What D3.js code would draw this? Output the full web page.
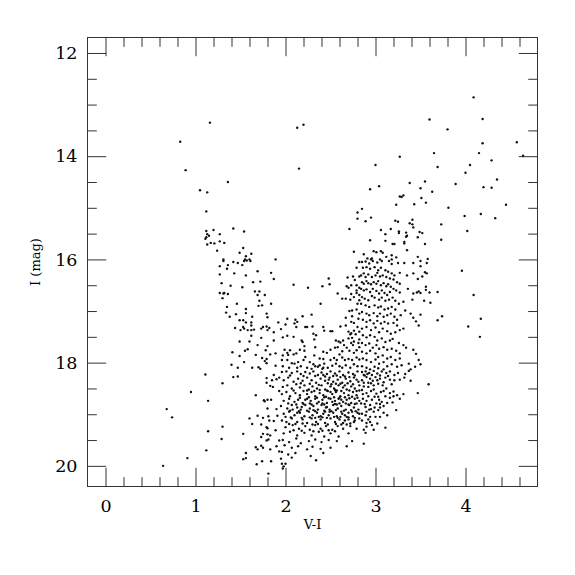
<!DOCTYPE html>
<html><head><meta charset="utf-8">
<script src="https://cdn.jsdelivr.net/npm/d3@7"></script>
<style>body{margin:0;background:#fff}svg{display:block}</style>
</head><body>
<svg id="c" width="575" height="575"></svg>
<script>
// ---- tick labels / domains ----
const xMajorTicks = [0, 1, 2, 3, 4];
const yMajorTicks = [12, 14, 16, 18, 20];
const xDomain = [-0.2, 4.8];
const yDomain = [11.7, 20.4];
const xLabel = "V-I";
const yLabel = "I (mag)";

// ---- data: [V-I, I] ----
const brightField = [[1.16,13.35],[0.83,13.72],[0.89,14.27],[1.36,14.50],[1.05,14.66],[1.13,14.70],[1.12,15.07],
[2.13,13.45],[2.20,13.39],[3.60,13.29],[2.15,14.24],[3.27,14.01],[3.00,14.17],
[4.09,12.86],[4.19,13.28],[3.80,13.48],[4.19,13.75],[4.57,13.73],[4.64,13.99],[3.65,13.94],[4.15,13.94],[4.29,14.08],[4.05,14.17],[3.69,14.21],[4.00,14.32],[4.35,14.45],[3.89,14.54],[3.63,14.69],[4.20,14.60],[4.29,14.61],[4.45,14.94],[3.81,15.00],[3.99,15.16],[4.17,15.12],[4.33,15.20],[3.73,15.32],[4.02,15.45],[3.73,15.62]];

const blueBranch = [[1.12,15.45],[1.20,15.43],[1.42,15.40],[1.54,15.46],[1.13,15.51],[1.27,15.51],[1.15,15.54],[1.12,15.57],[1.11,15.60],[1.27,15.65],[1.17,15.68],[1.21,15.69],[1.32,15.68],[1.13,15.71],[1.24,15.83],[1.53,15.78],[1.49,15.87],[1.62,15.89],[1.56,15.94],[1.31,16.00],[1.55,16.00],[1.60,16.00],[1.89,16.00],
[1.31,16.03],[1.36,16.11],[1.42,16.05],[1.47,16.07],[1.52,16.11],[1.54,16.03],[1.57,16.02],[1.61,16.03],[1.27,16.13],[1.35,16.18],[1.69,16.23],[1.43,16.27],[1.56,16.31],[1.27,16.29],[1.84,16.26],[1.87,16.38],[1.29,16.46],[1.64,16.44],[1.72,16.43],[1.39,16.51],[1.52,16.54],[1.27,16.65],[1.31,16.66],[1.32,16.65],[1.36,16.67],[1.66,16.62],[1.71,16.62],[1.30,16.75],[1.69,16.69],[1.77,16.69],[1.71,16.80],[1.46,16.86],[1.70,16.90],[1.74,16.89],[1.84,16.86],[1.35,16.92],[1.56,16.96],[1.56,17.04],[1.34,17.03],[1.45,17.06],[1.79,17.05],[1.38,17.11],[1.63,17.11],[1.80,17.12],[1.49,17.18],[1.53,17.18],[1.56,17.22],[1.62,17.22],[1.92,17.22],[1.62,17.28],[1.53,17.31],[1.54,17.34],[1.44,17.33],[1.50,17.37],[1.58,17.37],[1.62,17.37],[1.65,17.36],[1.73,17.34],[1.75,17.31],[1.79,17.30],[1.82,17.33],[1.80,17.37],[1.87,17.41],[1.62,17.48],[1.73,17.52],[1.49,17.59],[1.60,17.59],[1.87,17.57],[1.69,17.66],[1.80,17.68],[1.58,17.74],[1.55,17.77],[1.78,17.76],[1.41,17.80],[1.89,17.82],[1.83,17.84],[1.49,17.87],[1.67,17.85],[1.74,17.91],[1.79,17.93],[1.77,17.97],[1.79,18.01],[1.54,17.99],[1.40,18.04],[1.47,18.10],[1.63,18.10],[1.70,18.09],[1.72,18.12],[1.89,18.06],
[1.11,18.23],[1.42,18.28],[1.47,18.27],[1.30,18.40],[0.95,18.57],[1.14,18.74],[0.68,18.90],[0.74,19.06],[1.14,19.33],[1.30,19.24],[1.29,19.48],[1.12,19.70],[0.91,19.85],[0.64,20.00]];

const upperGiants = [[2.94,14.64],[3.04,14.58],[3.38,14.52],[3.55,14.49],[3.50,14.62],[3.27,14.78],[3.29,14.79],[3.31,14.76],[3.51,14.81],[3.56,14.90],[3.23,14.94],[3.43,14.93],[2.85,15.02],[2.80,15.09],[2.95,15.19],[2.80,15.21],[2.89,15.26],[3.22,15.25],[3.25,15.27],[3.41,15.23],[3.38,15.30],[3.41,15.32],[3.42,15.38],[2.71,15.41],[3.06,15.43],[3.17,15.41],[3.26,15.46],[3.26,15.49],[3.34,15.48],[3.11,15.51],[3.49,15.47],[3.52,15.49],[3.35,15.54],[3.34,15.56],[3.47,15.57],[2.94,15.63],[3.11,15.64],[3.32,15.66],[3.32,15.69],[3.19,15.70],[3.21,15.70],[3.55,15.70],[3.35,15.82],[2.76,15.85],[2.98,15.84],[3.01,15.86],[3.06,15.84],[3.08,15.87],[2.87,15.90],[3.12,15.95],[3.18,15.92],[3.23,15.96],[2.91,15.98],[2.96,15.98],[2.95,16.00],[3.05,16.00],[3.18,16.00],[3.47,15.95],[3.58,15.99],
[3.50,16.03],[3.57,16.07],[3.50,16.13],[3.96,16.22],[3.55,16.25],[3.57,16.27],[3.52,16.33],[3.56,16.53],[3.56,16.59],[3.60,16.64],[3.69,16.63],[3.50,16.65],[4.09,16.69],[3.54,16.80],[3.61,16.84],[3.50,17.07],[3.74,17.10],[3.69,17.18],[4.17,17.15],[4.03,17.30],[4.16,17.50],[3.50,18.03],[3.59,18.42]];

const giantsLeft = [[2.82,16.05],[2.79,16.16],[2.75,16.33],[2.69,16.35],[2.82,16.33],[2.77,16.40],[2.79,16.50],[2.73,16.50],[2.70,16.55],[2.68,16.52],[2.82,16.55],[2.79,16.60],[2.79,16.65],[2.82,16.69],[2.73,16.67],[2.58,16.66],[2.63,16.76],[2.67,16.76],[2.72,16.78],[2.76,16.73],[2.82,16.79],[2.80,16.86],[2.48,16.37],[2.49,16.48],[2.41,16.52],[2.09,16.49],[2.25,16.55],[2.39,16.86],[2.74,16.99],[2.71,17.00],[2.79,16.97],[2.82,17.05],[2.67,17.13],[2.74,17.10],[2.76,17.23],[2.81,17.15],[2.73,17.21],[2.29,17.07],[2.19,17.10],[2.02,17.15],[2.11,17.17],[2.13,17.21],[2.10,17.24],[2.12,17.31],[2.00,17.26],[1.95,17.35],[2.22,17.31],[2.24,17.31],[2.30,17.30],[2.42,17.31],[2.43,17.38],[2.50,17.39],[2.52,17.39],[2.61,17.30],[2.67,17.28],[2.80,17.31],[2.70,17.40],[2.76,17.38],[2.73,17.43],[2.72,17.45],[2.78,17.45],[2.82,17.40],[2.31,17.44],[2.34,17.47],[2.02,17.48],[2.09,17.50],[1.97,17.51],[2.18,17.57],[2.19,17.60],[2.32,17.55],[2.21,17.68],[2.33,17.70],[2.56,17.57],[2.64,17.57],[2.59,17.59],[2.61,17.61],[2.70,17.53],[2.74,17.52],[2.82,17.55],[2.76,17.59],[2.73,17.62],[2.81,17.62],[2.65,17.66],[2.58,17.70],[2.50,17.75],[2.55,17.71],[2.42,17.79],[2.46,17.81],[2.68,17.71],[2.75,17.66],[2.82,17.70],[2.71,17.77],[2.76,17.81],[2.79,17.76],[2.63,17.78],[2.60,17.84],[1.99,17.75],[2.05,17.76],[2.02,17.81],[1.97,17.86],[2.03,17.85],[2.09,17.84],[2.12,17.82],[2.16,17.75],[2.21,17.77],[2.22,17.89],[2.32,17.86],[2.38,17.92],[2.42,17.93],[2.43,18.02],[2.50,17.95],[2.54,17.91],[2.57,17.95],[2.63,17.90],[2.66,17.95],[2.70,17.93],[2.74,17.95],[2.79,17.90],[2.82,17.94],[1.96,17.95],[2.02,17.95],[2.07,18.01],[2.10,18.02],[2.14,17.99],[2.20,17.95],[2.27,17.99],[2.31,18.03],[2.36,18.08],[2.38,18.05],[2.42,18.10],[2.47,18.10],[2.52,18.06],[2.56,18.02],[2.60,18.07],[2.63,18.10],[2.67,18.05],[2.72,18.10],[2.76,18.03],[2.80,18.07],[1.97,18.07],[2.04,18.10],[2.13,18.10],[2.17,18.07],[2.24,18.10],[2.29,18.12],[2.33,18.07],[2.41,18.12]];

const giantsRight = [[2.85,16.05],[2.89,16.04],[2.93,16.08],[2.97,16.03],[3.02,16.06],[3.07,16.03],[3.15,16.03],[3.18,16.09],[3.25,16.07],[3.32,16.07],[3.42,16.07],
[2.86,16.16],[2.90,16.15],[2.94,16.18],[2.99,16.15],[3.03,16.21],[3.06,16.16],[3.11,16.21],[3.14,16.24],[3.18,16.27],[3.21,16.31],[3.27,16.26],[3.35,16.31],[3.42,16.27],[3.47,16.38],
[2.84,16.31],[2.87,16.27],[2.89,16.34],[2.92,16.29],[2.96,16.34],[3.00,16.31],[3.02,16.26],[3.05,16.33],[3.08,16.31],[3.12,16.34],[3.16,16.37],[3.20,16.39],[3.24,16.44],[3.27,16.47],
[2.85,16.44],[2.87,16.47],[2.90,16.42],[2.92,16.46],[2.95,16.48],[2.98,16.44],[3.01,16.47],[3.03,16.42],[3.06,16.50],[3.09,16.46],[3.12,16.52],[3.14,16.48],[3.17,16.53],[3.20,16.57],[3.23,16.60],[3.27,16.64],[3.36,16.57],
[2.84,16.57],[2.87,16.60],[2.90,16.58],[2.94,16.63],[2.97,16.57],[3.01,16.61],[3.04,16.66],[3.07,16.60],[3.10,16.65],[3.13,16.69],[3.16,16.63],[3.42,16.66],[3.46,16.64],[3.48,16.62],[3.41,16.78],
[2.85,16.73],[2.88,16.76],[2.92,16.79],[2.96,16.71],[2.99,16.74],[3.04,16.78],[3.07,16.74],[3.11,16.80],[3.15,16.78],[3.19,16.74],[3.22,16.80],[3.26,16.86],[3.31,16.82],
[2.84,16.86],[2.89,16.89],[2.93,16.92],[2.99,16.89],[3.03,16.93],[3.06,16.91],[3.10,16.97],[3.14,16.95],[3.18,16.92],[3.22,16.97],[3.33,16.99],[3.39,17.05],[3.42,17.13],[3.45,17.20],[3.48,17.28],
[2.85,17.02],[2.90,17.05],[2.93,17.08],[2.98,17.04],[3.02,17.10],[3.05,17.05],[3.09,17.11],[3.13,17.08],[3.17,17.05],[3.21,17.11],[3.24,17.17],[3.28,17.08],
[2.86,17.17],[2.90,17.21],[2.94,17.18],[2.98,17.24],[3.02,17.19],[3.06,17.24],[3.10,17.21],[3.14,17.24],[3.20,17.23],[3.24,17.28],
[2.85,17.34],[2.90,17.31],[2.95,17.37],[3.00,17.32],[3.04,17.41],[3.08,17.34],[3.13,17.39],[3.17,17.44],[3.22,17.41],[3.27,17.37],[3.31,17.34],
[2.86,17.47],[2.90,17.51],[2.94,17.47],[2.99,17.50],[3.02,17.57],[3.07,17.53],[3.11,17.60],[3.16,17.57],[3.19,17.54],[3.26,17.62],[3.31,17.66],[3.34,17.71],[3.42,17.75],[3.45,17.83],
[2.85,17.62],[2.89,17.66],[2.93,17.63],[2.97,17.71],[3.01,17.66],[3.04,17.73],[3.09,17.70],[3.13,17.75],[3.18,17.73],[3.23,17.77],[3.27,17.82],
[2.85,17.79],[2.90,17.82],[2.94,17.77],[3.00,17.82],[3.03,17.89],[3.08,17.86],[3.13,17.92],[3.17,17.89],[3.22,17.95],[3.27,17.92],
[2.86,17.92],[2.90,17.95],[2.95,17.99],[3.00,17.94],[3.04,18.02],[3.09,17.99],[3.13,18.07],[3.18,18.03],[3.24,18.08],[3.29,18.05],[3.37,18.02],[3.44,18.08],[3.48,17.95],[3.39,18.13],
[2.85,18.07],[2.90,18.10],[2.94,18.13],[2.99,18.08],[3.03,18.11],[3.09,18.13]];

const turnoffBlue = [[1.79,18.30],[1.87,18.24],[1.90,18.32],[1.93,18.29],[1.85,18.34],[1.79,18.39],[1.83,18.45],[1.86,18.47],[1.93,18.55],[1.67,18.63],[1.76,18.73],[1.77,18.75],[1.80,18.72],[1.84,18.72],[1.80,18.89],[1.90,18.90],[1.69,19.03],[1.75,19.07],[1.81,19.04],[1.91,19.03],[1.60,19.08],[1.82,19.12],[1.87,19.13],[1.63,19.19],[1.73,19.20],[1.79,19.25],[1.80,19.27],[1.89,19.31],[1.53,19.38],[1.75,19.38],[1.80,19.39],[1.83,19.41],[1.73,19.44],[1.79,19.51],[1.81,19.49],[1.93,19.51],[1.73,19.61],[1.67,19.64],[1.69,19.68],[1.75,19.65],[1.90,19.62],[1.83,19.68],[1.93,19.72],[1.56,19.75],[1.53,19.87],[1.56,19.85],[1.74,19.91],[1.84,19.91],[1.68,19.97],[1.81,20.15],[1.96,19.96],[1.98,20.01]];

const faintLeft = [[1.96,18.18],[2.01,18.17],[2.07,18.20],[2.13,18.17],[2.17,18.22],[2.22,18.18],[2.27,18.21],[2.31,18.17],[2.36,18.24],[2.40,18.19],[2.46,18.22],[2.50,18.17],[2.55,18.21],[2.60,18.17],[2.64,18.24],[2.70,18.19],[2.75,18.22],[2.80,18.17],
[1.98,18.34],[2.03,18.29],[2.09,18.37],[2.14,18.31],[2.19,18.35],[2.24,18.29],[2.29,18.34],[2.34,18.39],[2.39,18.31],[2.44,18.35],[2.49,18.29],[2.53,18.37],[2.58,18.33],[2.63,18.39],[2.67,18.31],[2.72,18.36],[2.76,18.29],[2.81,18.37],
[1.97,18.47],[2.02,18.44],[2.07,18.50],[2.12,18.42],[2.16,18.48],[2.21,18.44],[2.26,18.52],[2.30,18.46],[2.35,18.50],[2.40,18.44],[2.44,18.52],[2.50,18.46],[2.54,18.50],[2.59,18.44],[2.64,18.48],[2.68,18.52],[2.73,18.46],[2.77,18.50],[2.82,18.44],
[1.96,18.61],[2.01,18.57],[2.05,18.65],[2.11,18.59],[2.16,18.63],[2.20,18.55],[2.24,18.61],[2.29,18.57],[2.33,18.65],[2.38,18.59],[2.42,18.63],[2.47,18.55],[2.52,18.61],[2.56,18.57],[2.61,18.65],[2.65,18.59],[2.70,18.63],[2.75,18.57],[2.79,18.63],
[1.98,18.74],[2.04,18.70],[2.10,18.76],[2.14,18.72],[2.19,18.78],[2.24,18.70],[2.28,18.74],[2.33,18.70],[2.37,18.76],[2.41,18.72],[2.46,18.78],[2.50,18.70],[2.55,18.74],[2.59,18.70],[2.64,18.76],[2.68,18.72],[2.73,18.78],[2.77,18.70],[2.82,18.74],
[1.95,18.84],[2.02,18.89],[2.07,18.82],[2.13,18.87],[2.17,18.91],[2.22,18.82],[2.27,18.89],[2.31,18.84],[2.36,18.91],[2.40,18.82],[2.45,18.87],[2.49,18.91],[2.53,18.82],[2.58,18.89],[2.62,18.84],[2.67,18.91],[2.71,18.82],[2.76,18.87],[2.81,18.91],
[1.98,18.99],[2.04,18.95],[2.10,19.02],[2.16,18.97],[2.21,19.04],[2.26,18.95],[2.30,19.02],[2.35,18.97],[2.39,19.04],[2.44,18.95],[2.48,19.02],[2.53,18.97],[2.57,19.04],[2.62,18.95],[2.66,19.02],[2.70,18.97],[2.75,19.04],[2.80,18.97],
[1.96,19.12],[2.01,19.15],[2.07,19.08],[2.13,19.15],[2.19,19.10],[2.24,19.17],[2.29,19.08],[2.34,19.15],[2.39,19.10],[2.44,19.17],[2.50,19.08],[2.55,19.15],[2.60,19.10],[2.64,19.17],[2.70,19.10],[2.76,19.15],[2.82,19.08],
[2.00,19.25],[2.08,19.21],[2.15,19.28],[2.22,19.23],[2.27,19.30],[2.33,19.21],[2.39,19.28],[2.45,19.23],[2.52,19.30],[2.58,19.23],[2.64,19.28],[2.72,19.23],[2.79,19.28],
[1.98,19.37],[2.05,19.34],[2.13,19.41],[2.21,19.36],[2.29,19.41],[2.37,19.34],[2.43,19.43],[2.50,19.37],[2.59,19.43],[2.70,19.37],
[1.97,19.50],[2.04,19.54],[2.12,19.47],[2.17,19.56],[2.26,19.52],[2.33,19.49],[2.40,19.54],[2.48,19.50],[2.57,19.52],[2.74,19.52],
[1.99,19.60],[2.07,19.65],[2.14,19.62],[2.24,19.68],[2.30,19.63],[2.39,19.67],[2.50,19.65],[2.68,19.62],
[1.96,19.73],[2.03,19.78],[2.11,19.75],[2.28,19.81],[2.34,19.89],[2.42,19.75],[1.95,19.86],[2.00,19.96],[1.97,20.05],[2.07,19.84],
[2.42,18.24],[2.48,18.33],[2.53,18.26],[2.56,18.41],[2.61,18.28],[2.66,18.44],[2.71,18.28],[2.79,18.33],[2.82,18.54],[2.74,18.66],[2.67,18.79],[2.62,18.72],[2.57,18.54],[2.50,18.57],[2.45,18.66],[2.41,18.79],[2.46,18.86],[2.52,18.76],[2.57,18.81],[2.63,18.99],[2.68,19.05],[2.74,18.95],[2.79,18.79],[2.82,18.99],[2.77,19.12],[2.72,19.18],[2.66,19.12],[2.61,19.05],[2.54,19.05],[2.49,18.95],[2.42,18.99],[2.37,19.05],[2.31,18.92],[2.27,18.79],[2.22,18.72],[2.18,18.86],[2.13,18.97],[2.08,18.91],[2.03,18.79],[2.00,19.05]];

const faintCore = [[2.33,18.26],[2.44,18.27],[2.57,18.25],[2.66,18.27],[2.77,18.25],[2.20,18.26],[2.05,18.25],
[2.27,18.41],[2.37,18.43],[2.47,18.40],[2.51,18.42],[2.61,18.41],[2.69,18.40],[2.75,18.42],[2.17,18.40],
[2.24,18.54],[2.32,18.55],[2.38,18.53],[2.46,18.54],[2.55,18.53],[2.62,18.55],[2.71,18.54],[2.79,18.55],[2.09,18.54],
[2.16,18.68],[2.26,18.67],[2.35,18.68],[2.43,18.67],[2.48,18.69],[2.54,18.67],[2.60,18.68],[2.66,18.67],[2.71,18.69],[2.80,18.68],
[2.12,18.81],[2.20,18.80],[2.29,18.81],[2.35,18.79],[2.43,18.81],[2.55,18.80],[2.60,18.79],[2.70,18.81],[2.77,18.80],
[2.05,18.93],[2.15,18.94],[2.24,18.93],[2.33,18.94],[2.43,18.93],[2.51,18.94],[2.56,18.92],[2.65,18.93],[2.73,18.92],[2.78,18.94],
[2.06,19.06],[2.18,19.07],[2.27,19.06],[2.33,19.07],[2.41,19.06],[2.46,19.07],[2.58,19.07],[2.70,19.06],[2.77,19.07],
[2.04,19.19],[2.11,19.19],[2.19,19.18],[2.30,19.20],[2.36,19.19],[2.47,19.20],[2.56,19.19],[2.62,19.20],[2.68,19.20],
[2.09,19.31],[2.18,19.32],[2.31,19.33],[2.41,19.32],[2.48,19.31],[2.55,19.33]];

const faintRight = [[2.85,18.18],[2.89,18.17],[2.93,18.20],[2.98,18.16],[3.02,18.21],[3.07,18.17],[3.12,18.20],[3.16,18.17],[3.25,18.20],[3.33,18.22],[3.37,18.16],[3.39,18.35],[3.32,18.29],[3.27,18.33],[3.21,18.34],[3.16,18.33],[3.11,18.29],[3.05,18.31],[3.00,18.28],[2.94,18.31],[2.90,18.28],[2.85,18.34],
[3.47,18.59],[3.31,18.61],[3.27,18.70],[3.24,18.63],[3.20,18.65],[3.16,18.59],[3.12,18.50],[3.08,18.44],[3.03,18.41],[2.98,18.44],[2.92,18.47],[2.87,18.46],[2.85,18.53],[2.90,18.59],[2.95,18.55],[3.01,18.60],[3.06,18.57],[3.11,18.65],[3.16,18.68],
[3.19,18.77],[3.23,18.92],[3.13,18.78],[3.09,18.84],[3.05,18.87],[3.01,18.79],[2.96,18.72],[2.90,18.74],[2.86,18.70],[2.84,18.79],[2.89,18.86],[2.93,18.91],[2.98,18.95],[3.03,18.92],[3.09,18.97],[3.13,19.02],[3.00,19.05],[2.94,19.05],[2.89,19.02],[2.85,18.99],
[2.85,19.12],[2.90,19.17],[2.94,19.15],[3.02,19.18],[3.11,19.26],[2.90,19.24],[2.87,19.30],[2.89,19.36],[2.87,19.57],
[2.87,18.24],[2.91,18.22],[2.96,18.24],[3.02,18.34],[2.87,18.39],[2.92,18.39],[2.97,18.35],[2.86,18.61],[2.99,18.66],[3.04,18.72],[3.07,18.76],[2.94,18.82],[2.99,18.87],[2.90,18.95],[3.05,19.05],[2.96,19.21],
[2.88,18.25],[3.05,18.25],[3.14,18.26],[3.21,18.24],[2.95,18.40],[3.09,18.38],[3.18,18.42],[2.98,18.52],[3.09,18.55],[3.20,18.56],[2.92,18.65],[3.03,18.66],[2.88,18.80],[3.05,18.80],[2.95,18.90],[2.92,19.10],[2.98,19.30]];

const allStars = [].concat(brightField, blueBranch, upperGiants, giantsLeft, giantsRight, turnoffBlue, faintLeft, faintCore, faintRight);

// ---- layout ----
const L = 87.5, R = 537.5, T = 37.5, B = 486.5;
const svg = d3.select("#c");
const x = d3.scaleLinear().domain(xDomain).range([L, R]);
const y = d3.scaleLinear().domain(yDomain).range([T, B]);

const xMinor = d3.range(-1, 25).map(i => +(i * 0.2).toFixed(2)).filter(v => v > xDomain[0] && v < xDomain[1] && !xMajorTicks.includes(v));
const yMinor = d3.range(24, 41).map(i => i * 0.5).filter(v => !yMajorTicks.includes(v));

const MAJ = 18.7, MIN = 9.3;
const font = "'DejaVu Serif', 'Liberation Serif', serif";

function styleAxis(g) {
  g.select(".domain").remove();
  g.selectAll(".tick line").attr("stroke", "#333").attr("stroke-width", 1);
  g.selectAll(".tick text").attr("font-family", font).attr("font-size", 17.5).attr("fill", "#000");
}

// bottom
svg.append("g").attr("transform", `translate(0,${B})`)
  .call(d3.axisBottom(x).tickValues(xMinor).tickSize(-MIN).tickFormat("")).call(styleAxis);
svg.append("g").attr("transform", `translate(0,${B})`)
  .call(d3.axisBottom(x).tickValues(xMajorTicks).tickSize(-MAJ).tickPadding(13).tickFormat(d3.format("d"))).call(styleAxis);
// top
svg.append("g").attr("transform", `translate(0,${T})`)
  .call(d3.axisTop(x).tickValues(xMinor).tickSize(-MIN).tickFormat("")).call(styleAxis);
svg.append("g").attr("transform", `translate(0,${T})`)
  .call(d3.axisTop(x).tickValues(xMajorTicks).tickSize(-MAJ).tickFormat("")).call(styleAxis);
// left
svg.append("g").attr("transform", `translate(${L},0)`)
  .call(d3.axisLeft(y).tickValues(yMinor).tickSize(-MIN).tickFormat("")).call(styleAxis);
svg.append("g").attr("transform", `translate(${L},0)`)
  .call(d3.axisLeft(y).tickValues(yMajorTicks).tickSize(-MAJ).tickPadding(10).tickFormat(d3.format("d"))).call(styleAxis);
// right
svg.append("g").attr("transform", `translate(${R},0)`)
  .call(d3.axisRight(y).tickValues(yMinor).tickSize(-MIN).tickFormat("")).call(styleAxis);
svg.append("g").attr("transform", `translate(${R},0)`)
  .call(d3.axisRight(y).tickValues(yMajorTicks).tickSize(-MAJ).tickFormat("")).call(styleAxis);

// frame
svg.append("rect").attr("x", L).attr("y", T).attr("width", R - L).attr("height", B - T)
  .attr("fill", "none").attr("stroke", "#333").attr("stroke-width", 1);

// points
svg.append("g").selectAll("circle").data(allStars).join("circle")
  .attr("cx", d => x(d[0])).attr("cy", d => y(d[1])).attr("r", 1.2).attr("fill", "#111");

// axis labels
svg.append("text").attr("x", (L + R) / 2).attr("y", 529).attr("text-anchor", "middle")
  .attr("font-family", font).attr("font-size", 13).text(xLabel);
svg.append("text").attr("transform", `translate(40,${(T + B) / 2}) rotate(-90)`).attr("text-anchor", "middle")
  .attr("font-family", font).attr("font-size", 13).text(yLabel);
</script>
</body></html>
